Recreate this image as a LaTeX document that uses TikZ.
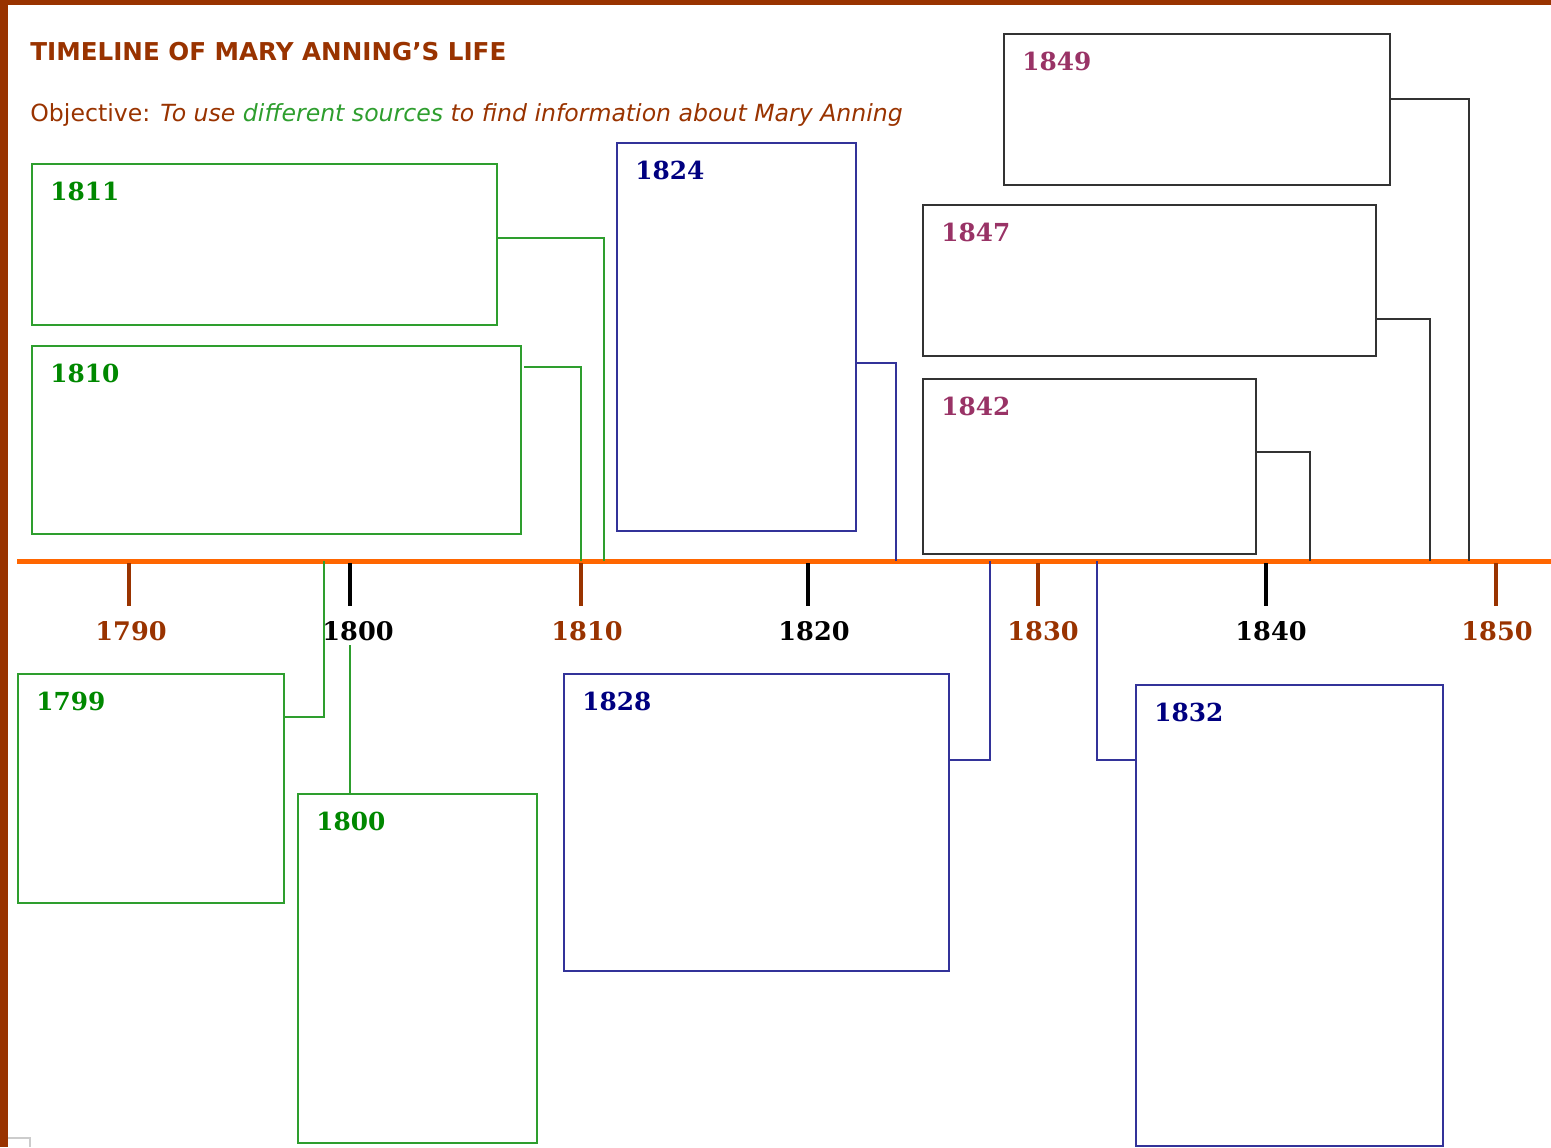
\documentclass[tikz,border=0pt]{standalone}
\usepackage{fontspec}
\setmainfont{DejaVu Sans}
\newfontfamily\yearfont{DejaVu Serif}
\usepackage{xcolor}
\usetikzlibrary{positioning}
\definecolor{annBrown}{HTML}{993300}
\definecolor{annOrange}{HTML}{FF6600}
\definecolor{annGreen}{HTML}{2E9E2E}
\definecolor{annGreenText}{HTML}{008800}
\definecolor{annBlue}{HTML}{333399}
\definecolor{annBlueText}{HTML}{000080}
\definecolor{annGrey}{HTML}{333333}
\definecolor{annPurple}{HTML}{993366}

\tikzset{
  eventbox/.style={draw=#1, line width=0.8pt, rectangle, inner sep=0pt, outer sep=0pt, anchor=north west},
  yearlabel/.style={text=#1, font=\yearfont\bfseries\fontsize{12.4}{14}\selectfont, inner sep=0pt, anchor=north west},
  link/.style={draw=#1, line width=0.7pt},
}

\begin{document}
\begin{tikzpicture}[x=0.5pt, y=-0.5pt]
        \useasboundingbox (0,0) rectangle (1551,1147);
        % page frame
        \fill[annBrown] (0,0) rectangle (1551,5);
        \fill[annBrown] (0,0) rectangle (8,1147);
        \draw[gray!40, line width=1pt] (8,1138) -- (30,1138) -- (30,1147);

        % heading
        \node[anchor=west, inner sep=0pt, text=annBrown,
              font=\bfseries\fontsize{12.3}{14}\selectfont] (title) at (30,52)
              {TIMELINE OF MARY ANNING’S LIFE};
        \node[anchor=west, inner sep=0pt, text=annBrown,
              font=\fontsize{11.8}{14}\selectfont] (objective) at (30,115)
              {Objective: \textit{To use \textcolor{annGreen}{different sources} to find information about Mary Anning}};

        % time axis
        \coordinate (axisL) at (17,561);
        \coordinate (axisR) at (1551,561);
        \draw[annOrange, line width=2.5pt] (axisL) -- (axisR);
        \foreach \yr/\x/\lx/\col/\lw in {1790/129/131/annBrown/1.8pt, 1800/350/358/black/2.2pt,
                                         1810/581/587/annBrown/1.8pt, 1820/808/814/black/2.2pt,
                                         1830/1038/1043/annBrown/1.8pt, 1840/1266/1271/black/2.2pt,
                                         1850/1496/1497/annBrown/1.8pt} {
            \coordinate (t\yr) at (\x,563);
            \draw[\col, line width=\lw] (t\yr) -- ++(0,43);
            \node[font=\yearfont\bfseries\fontsize{12.8}{14}\selectfont, text=\col,
                  inner sep=0pt, anchor=north] (l\yr) at (\lx,621) {\yr};
        }

        % event boxes above the axis
        \node[eventbox=annGreen, minimum width=232.5pt, minimum height=80.5pt] (b1811) at (32,164) {};
        \node[eventbox=annGreen, minimum width=244.5pt, minimum height=94pt] (b1810) at (32,346) {};
        \node[eventbox=annBlue, minimum width=119.5pt, minimum height=194pt] (b1824) at (617,143) {};
        \node[eventbox=annGrey, minimum width=193pt, minimum height=75.5pt] (b1849) at (1004,34) {};
        \node[eventbox=annGrey, minimum width=226.5pt, minimum height=75.5pt] (b1847) at (923,205) {};
        \node[eventbox=annGrey, minimum width=166.5pt, minimum height=87.5pt] (b1842) at (923,379) {};
        % event boxes below the axis
        \node[eventbox=annGreen, minimum width=133pt, minimum height=114.5pt] (b1799) at (18,674) {};
        \node[eventbox=annGreen, minimum width=119.5pt, minimum height=174.5pt] (b1800) at (298,794) {};
        \node[eventbox=annBlue, minimum width=192.5pt, minimum height=148.5pt] (b1828) at (564,674) {};
        \node[eventbox=annBlue, minimum width=153.5pt, minimum height=230.5pt] (b1832) at (1136,685) {};

        % year headings
        \foreach \yr/\col in {1811/annGreenText, 1810/annGreenText, 1824/annBlueText,
                              1849/annPurple, 1847/annPurple, 1842/annPurple,
                              1799/annGreenText, 1800/annGreenText, 1828/annBlueText, 1832/annBlueText} {
            \node[yearlabel=\col] (y\yr) at ([shift={(18,18)}]b\yr.north west) {\yr};
        }

        % links to the axis
        \coordinate (e1811) at (604,238);
        \coordinate (e1810) at (581,367);
        \coordinate (e1824) at (896,363);
        \coordinate (e1849) at (1469,99);
        \coordinate (e1847) at (1430,319);
        \coordinate (e1842) at (1310,452);
        \coordinate (e1799) at (324,717);
        \coordinate (e1828) at (990,760);
        \coordinate (e1832) at (1097,760);
        \draw[link=annGreen] (b1811.east |- e1811) -- (e1811) -- (e1811 |- axisL);
        \draw[link=annGreen] ([xshift=1.5pt]b1810.east |- e1810) -- (e1810) -- (e1810 |- axisL);
        \draw[link=annBlue] (b1824.east |- e1824) -- (e1824) -- (e1824 |- axisL);
        \draw[link=annGrey] (b1849.east |- e1849) -- (e1849) -- (e1849 |- axisL);
        \draw[link=annGrey] (b1847.east |- e1847) -- (e1847) -- (e1847 |- axisL);
        \draw[link=annGrey] (b1842.east |- e1842) -- (e1842) -- (e1842 |- axisL);
        \draw[link=annGreen] (b1799.east |- e1799) -- (e1799) -- (e1799 |- axisL);
        \draw[link=annGreen] (b1800.north -| t1800) -- ([yshift=-2pt]l1800.south -| t1800);
        \draw[link=annBlue] (b1828.east |- e1828) -- (e1828) -- (e1828 |- axisL);
        \draw[link=annBlue] (b1832.west |- e1832) -- (e1832) -- (e1832 |- axisL);
\end{tikzpicture}
\end{document}
